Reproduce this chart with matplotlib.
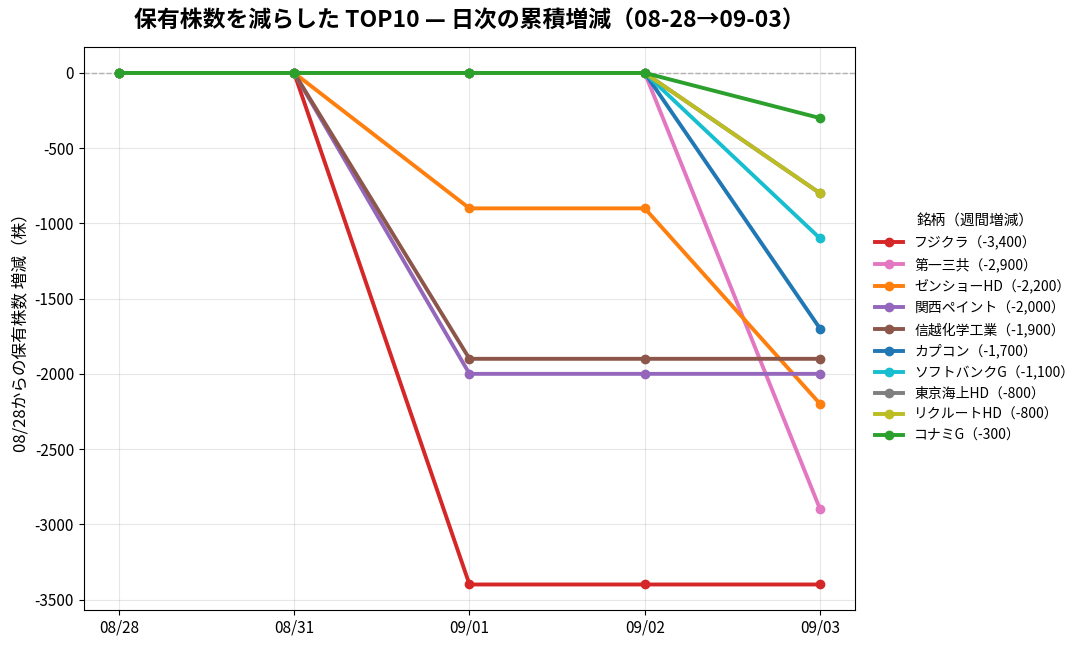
import matplotlib
matplotlib.use("Agg")
import matplotlib.pyplot as plt

plt.rcParams['font.family'] = ['Noto Sans CJK SC', 'DejaVu Sans']
plt.rcParams['axes.unicode_minus'] = False

dates = ["08/28", "08/31", "09/01", "09/02", "09/03"]

names = ["フジクラ", "第一三共", "ゼンショーHD", "関西ペイント", "信越化学工業",
         "カプコン", "ソフトバンクG", "東京海上HD", "リクルートHD", "コナミG"]

fujikura = [0, 0, -3400, -3400, -3400]
daiichi = [0, 0, 0, 0, -2900]
zensho = [0, 0, -900, -900, -2200]
kansai = [0, 0, -2000, -2000, -2000]
shinetsu = [0, 0, -1900, -1900, -1900]
capcom = [0, 0, 0, 0, -1700]
softbank = [0, 0, 0, 0, -1100]
tokio = [0, 0, 0, 0, -800]
recruit = [0, 0, 0, 0, -800]
konami = [0, 0, 0, 0, -300]

series = [fujikura, daiichi, zensho, kansai, shinetsu,
          capcom, softbank, tokio, recruit, konami]
colors = ["tab:red", "tab:pink", "tab:orange", "tab:purple", "tab:brown",
          "tab:blue", "tab:cyan", "tab:gray", "tab:olive", "tab:green"]

fig, ax = plt.subplots(figsize=(10.88, 6.49), dpi=100)
fig.subplots_adjust(left=0.077, right=0.786, top=0.927, bottom=0.06)

x = range(len(dates))
for name, vals, c in zip(names, series, colors):
    ax.plot(x, vals, marker='o', markersize=6, linewidth=2.8, color=c,
            label=f"{name}（{vals[-1]:,}）")

ax.axhline(0, color='gray', linestyle='--', linewidth=1, alpha=0.6, zorder=0)
ax.set_xticks(list(x))
ax.set_xticklabels(dates, fontsize=11)
ax.tick_params(axis='y', labelsize=11)
ax.grid(True, alpha=0.3)

ax.set_title("保有株数を減らした TOP10 — 日次の累積増減（08-28→09-03）",
             fontsize=16.5, fontweight='bold', pad=14)
ax.set_ylabel("08/28からの保有株数 増減（株）", fontsize=12)
ax.legend(title="銘柄（週間増減）", loc='center left', bbox_to_anchor=(1.01, 0.5),
          frameon=False, fontsize=10, title_fontsize=10.5)

plt.savefig("out.png", dpi=100)
